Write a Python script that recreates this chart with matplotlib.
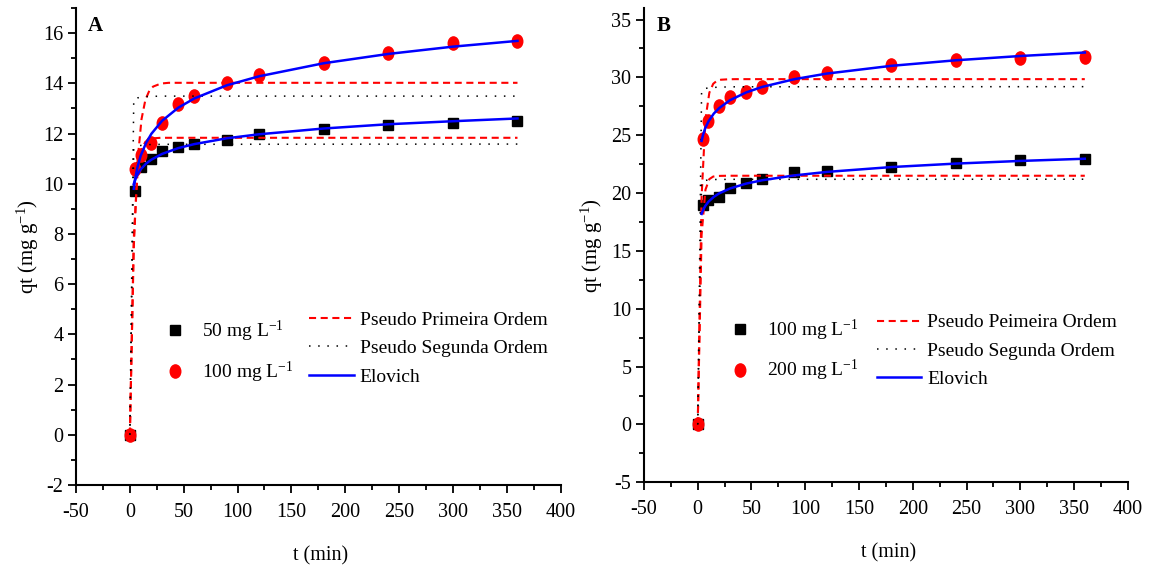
import matplotlib
matplotlib.use("Agg")
import matplotlib.pyplot as plt
from matplotlib.path import Path
from matplotlib.ticker import MultipleLocator, AutoMinorLocator

plt.rcParams["font.family"] = ["Liberation Serif", "DejaVu Serif"]
plt.rcParams["mathtext.fontset"] = "custom"
plt.rcParams["mathtext.rm"] = "Liberation Serif"
plt.rcParams["mathtext.it"] = "Liberation Serif:italic"
plt.rcParams["axes.unicode_minus"] = False
plt.rcParams["font.size"] = 14

# experimental points
t = [0, 5, 10, 20, 30, 45, 60, 90, 120, 180, 240, 300, 360]
qa_50 = [0, 9.7, 10.65, 11.0, 11.3, 11.47, 11.6, 11.76, 12.0, 12.18, 12.32, 12.43, 12.49]
qa_100 = [0, 10.6, 11.14, 11.63, 12.4, 13.16, 13.49, 14.0, 14.33, 14.82, 15.22, 15.59, 15.69]
qb_100 = [0, 19.0, 19.4, 19.7, 20.4, 20.9, 21.2, 21.8, 21.9, 22.25, 22.6, 22.85, 22.95]
qb_200 = [0, 24.65, 26.2, 27.5, 28.3, 28.75, 29.2, 30.05, 30.4, 31.1, 31.5, 31.7, 31.75]

# model curves
t_fit = [0, 3.6, 7.2, 10.8, 14.4, 18, 21.6, 28.8, 36, 360]
pfo_a_50 = [0, 7.81, 10.47, 11.37, 11.67, 11.78, 11.81, 11.83, 11.83, 11.83]
pfo_a_100 = [0, 7.44, 10.93, 12.57, 13.34, 13.70, 13.87, 13.99, 14.02, 14.02]
pso_a_50 = [0, 11.40, 11.50, 11.53, 11.55, 11.56, 11.56, 11.57, 11.57, 11.58]
pso_a_100 = [0, 13.35, 13.42, 13.45, 13.47, 13.48, 13.48, 13.49, 13.49, 13.49]
pfo_b_100 = [0, 16.4, 20.3, 21.21, 21.43, 21.48, 21.49, 21.5, 21.5, 21.5]
pfo_b_200 = [0, 19.7, 26.41, 28.68, 29.45, 29.72, 29.80, 29.84, 29.85, 29.85]
pso_b_100 = [0, 21.0, 21.1, 21.15, 21.17, 21.18, 21.18, 21.19, 21.19, 21.2]
pso_b_200 = [0, 28.9, 29.05, 29.1, 29.13, 29.15, 29.16, 29.18, 29.19, 29.2]

t_elo = [3.6, 5, 7, 10, 15, 20, 30, 45, 60, 90, 120, 180, 240, 300, 360]
elo_a_50 = [9.99, 10.17, 10.36, 10.57, 10.80, 10.96, 11.19, 11.42, 11.58, 11.81, 11.97, 12.20, 12.37, 12.49, 12.60]
elo_a_100 = [9.80, 10.22, 10.65, 11.11, 11.62, 11.99, 12.51, 13.03, 13.40, 13.92, 14.28, 14.80, 15.17, 15.46, 15.69]
elo_b_100 = [18.20, 18.54, 18.89, 19.26, 19.68, 19.98, 20.40, 20.82, 21.11, 21.53, 21.83, 22.25, 22.55, 22.78, 22.97]
elo_b_200 = [24.51, 25.05, 25.61, 26.20, 26.88, 27.35, 28.03, 28.70, 29.18, 29.85, 30.33, 31.00, 31.48, 31.85, 32.15]

# slightly tall ellipse marker like the original
circ = Path.unit_circle()
ellipse = Path(circ.vertices * [0.8, 1.0], circ.codes)

RED = "#ff0000"
BLUE = "#0000ff"
DASH = (0, (3.4, 2.2))
DOT = (0, (1, 5))

fig = plt.figure(figsize=(11.52, 5.71), dpi=100)
axA = fig.add_axes([0.066, 0.1506, 0.4206, 0.8354])
axB = fig.add_axes([0.559, 0.1553, 0.420, 0.8307])


def draw_panel(ax, low, high, pfo_lo, pfo_hi, pso_lo, pso_hi, elo_lo, elo_hi,
               lab_lo, lab_hi, pfo_name, ylim, ystep, letter, legpos, ylab_x):
    ms1, = ax.plot(t, low, ls="none", marker="s", ms=7.2, color="black", zorder=2)
    ms2, = ax.plot(t, high, ls="none", marker=ellipse, ms=9.5, color=RED, zorder=2)
    l1, = ax.plot(t_fit, pfo_lo, color=RED, ls=DASH, lw=1.5, zorder=3)
    ax.plot(t_fit, pfo_hi, color=RED, ls=DASH, lw=1.5, zorder=3)
    l2, = ax.plot(t_fit, pso_lo, color="black", ls=DOT, lw=1.1, zorder=3)
    ax.plot(t_fit, pso_hi, color="black", ls=DOT, lw=1.1, zorder=3)
    l3, = ax.plot(t_elo, elo_lo, color=BLUE, lw=1.8, zorder=4)
    ax.plot(t_elo, elo_hi, color=BLUE, lw=1.8, zorder=4)

    ax.set_xlim(-50, 400)
    ax.set_ylim(*ylim)
    ax.xaxis.set_major_locator(MultipleLocator(50))
    ax.xaxis.set_minor_locator(AutoMinorLocator(2))
    ax.yaxis.set_major_locator(MultipleLocator(ystep))
    ax.yaxis.set_minor_locator(AutoMinorLocator(2))
    for s in ("top", "right"):
        ax.spines[s].set_visible(False)
    for s in ("left", "bottom"):
        ax.spines[s].set_linewidth(1.5)
    ax.tick_params(which="major", direction="out", length=6, width=1.3, labelsize=14.5, pad=3)
    ax.tick_params(axis="x", which="major", pad=7)
    ax.tick_params(which="minor", direction="out", length=3.5, width=1.3)

    ax.set_xlabel("t (min)", fontsize=14.5)
    ax.set_ylabel("qt (mg g$^{-1}$)", fontsize=15)
    ax.xaxis.set_label_coords(0.505, -0.128)
    ax.yaxis.set_label_coords(ylab_x, 0.5)
    ax.text(0.04, 0.962, letter, transform=ax.transAxes, fontsize=15,
            fontweight="bold", ha="center", va="center")

    leg1 = ax.legend([ms1, ms2], [lab_lo, lab_hi], loc="center left",
                     bbox_to_anchor=legpos[0], bbox_transform=fig.transFigure,
                     frameon=False, handlelength=1.0, handletextpad=0.9,
                     labelspacing=0.8, borderpad=0, borderaxespad=0, fontsize=14)
    ax.add_artist(leg1)
    ax.legend([l1, l2, l3], [pfo_name, "Pseudo Segunda Ordem", "Elovich"],
              loc="center left", bbox_to_anchor=legpos[1],
              bbox_transform=fig.transFigure, frameon=False, handlelength=2.3,
              handletextpad=0.3, labelspacing=0.55, borderpad=0,
              borderaxespad=0, fontsize=14)


draw_panel(axA, qa_50, qa_100, pfo_a_50, pfo_a_100, pso_a_50, pso_a_100,
           elo_a_50, elo_a_100, "50 mg L$^{-1}$", "100 mg L$^{-1}$",
           "Pseudo Primeira Ordem", (-2, 17), 2, "A",
           [(0.1432, 0.3837), (0.2682, 0.3897)], -0.072)
draw_panel(axB, qb_100, qb_200, pfo_b_100, pfo_b_200, pso_b_100, pso_b_200,
           elo_b_100, elo_b_200, "100 mg L$^{-1}$", "200 mg L$^{-1}$",
           "Pseudo Peimeira Ordem", (-5, 36), 5, "B",
           [(0.6337, 0.3862), (0.761, 0.3856)], -0.08)

fig.savefig("out.png", dpi=100)
